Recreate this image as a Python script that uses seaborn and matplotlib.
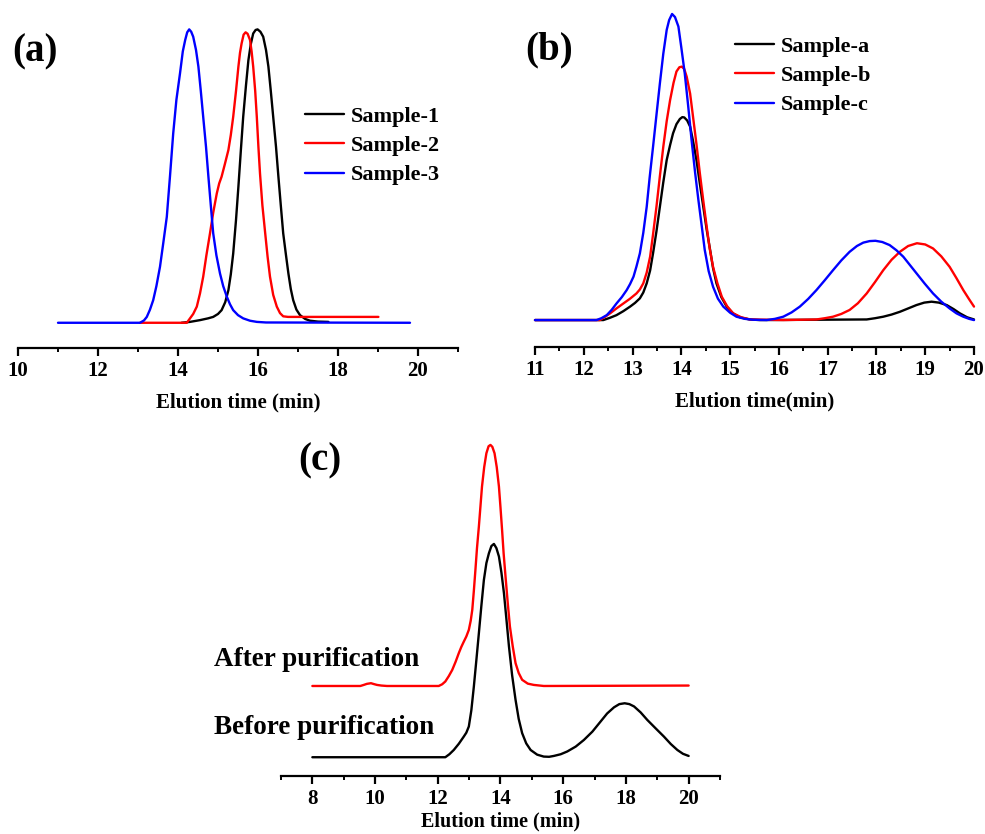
import numpy as np
import pandas as pd
import matplotlib
matplotlib.use("Agg")
import matplotlib.pyplot as plt
from matplotlib.ticker import MultipleLocator
import seaborn as sns

# ---------------- data ----------------
# Panel (a)
a1_x = [14.09, 14.30, 14.55, 14.75, 14.88, 15.00, 15.09, 15.18, 15.26, 15.32, 15.38, 15.45,
        15.51, 15.57, 15.63, 15.70, 15.76, 15.82, 15.88, 15.94, 15.99, 16.06, 16.13, 16.20,
        16.26, 16.32, 16.38, 16.45, 16.51, 16.57, 16.63, 16.70, 16.76, 16.82, 16.88, 16.96,
        17.05, 17.18, 17.30, 17.50, 17.76]
a1_y = [0.0, 0.003, 0.009, 0.015, 0.02, 0.03, 0.043, 0.07, 0.111, 0.165, 0.236, 0.35,
        0.464, 0.585, 0.702, 0.81, 0.895, 0.95, 0.986, 0.998, 1.0, 0.992, 0.975, 0.93,
        0.873, 0.79, 0.702, 0.60, 0.498, 0.40, 0.305, 0.23, 0.168, 0.115, 0.077, 0.045,
        0.026, 0.013, 0.007, 0.004, 0.003]
a2_x = [13.05, 14.22, 14.30, 14.38, 14.47, 14.55, 14.63, 14.71, 14.80, 14.88, 14.97, 15.03,
        15.09, 15.17, 15.26, 15.32, 15.38, 15.45, 15.51, 15.55, 15.59, 15.64, 15.69, 15.74,
        15.80, 15.84, 15.88, 15.93, 15.97, 16.01, 16.05, 16.11, 16.18, 16.24, 16.30, 16.38,
        16.47, 16.55, 16.63, 16.75, 19.01]
a2_y = [0.0, 0.0, 0.015, 0.03, 0.055, 0.10, 0.157, 0.23, 0.305, 0.375, 0.441, 0.475,
        0.498, 0.54, 0.589, 0.64, 0.702, 0.79, 0.873, 0.92, 0.952, 0.982, 0.99, 0.985,
        0.964, 0.925, 0.873, 0.79, 0.702, 0.60, 0.509, 0.40, 0.305, 0.225, 0.157, 0.095,
        0.055, 0.033, 0.022, 0.02, 0.02]
a3_x = [11.0, 13.05, 13.15, 13.22, 13.30, 13.38, 13.46, 13.55, 13.63, 13.72, 13.80, 13.88,
        13.96, 14.05, 14.12, 14.18, 14.23, 14.28, 14.33, 14.38, 14.45, 14.51, 14.57, 14.63,
        14.70, 14.76, 14.82, 14.88, 14.96, 15.05, 15.13, 15.22, 15.30, 15.38, 15.50, 15.63,
        15.80, 15.97, 16.20, 19.80]
a3_y = [0.0, 0.0, 0.008, 0.02, 0.045, 0.077, 0.125, 0.191, 0.27, 0.361, 0.50, 0.645,
        0.76, 0.85, 0.925, 0.964, 0.99, 1.0, 0.992, 0.975, 0.93, 0.873, 0.79, 0.702,
        0.60, 0.498, 0.40, 0.305, 0.23, 0.168, 0.125, 0.089, 0.063, 0.043, 0.026, 0.015,
        0.007, 0.003, 0.001, 0.0]
a_names = ["Sample-1", "Sample-2", "Sample-3"]

# Panel (b)
ba_x = [11.0, 12.40, 12.53, 12.67, 12.81, 12.95, 13.05, 13.15, 13.22, 13.29, 13.36, 13.42,
        13.49, 13.56, 13.63, 13.70, 13.77, 13.83, 13.90, 13.97, 14.02, 14.06, 14.12, 14.18,
        14.24, 14.31, 14.38, 14.45, 14.52, 14.59, 14.65, 14.72, 14.82, 14.93, 15.06, 15.20,
        15.40, 15.61, 17.80, 17.97, 18.14, 18.31, 18.48, 18.65, 18.82, 18.98, 19.13, 19.28,
        19.44, 19.58, 19.71, 19.86, 20.0]
ba_y = [0.0, 0.0, 0.007, 0.016, 0.029, 0.044, 0.056, 0.071, 0.09, 0.12, 0.162, 0.218,
        0.29, 0.37, 0.45, 0.523, 0.572, 0.61, 0.64, 0.657, 0.663, 0.662, 0.652, 0.632,
        0.585, 0.523, 0.445, 0.37, 0.295, 0.229, 0.17, 0.12, 0.075, 0.044, 0.022, 0.009,
        0.002, 0.0, 0.002, 0.006, 0.011, 0.018, 0.027, 0.038, 0.049, 0.057, 0.06, 0.057,
        0.049, 0.036, 0.022, 0.009, 0.002]
bb_x = [11.0, 12.33, 12.43, 12.54, 12.67, 12.81, 12.95, 13.08, 13.15, 13.22, 13.29, 13.36,
        13.42, 13.49, 13.56, 13.63, 13.70, 13.77, 13.84, 13.90, 13.96, 14.01, 14.06, 14.11,
        14.18, 14.24, 14.31, 14.38, 14.45, 14.52, 14.58, 14.65, 14.74, 14.83, 14.94, 15.06,
        15.23, 15.41, 16.09, 16.77, 16.94, 17.11, 17.28, 17.45, 17.62, 17.80, 17.97, 18.14,
        18.31, 18.48, 18.65, 18.83, 19.00, 19.16, 19.33, 19.50, 19.64, 19.78, 19.90, 20.0]
bb_y = [0.0, 0.0, 0.01, 0.022, 0.038, 0.054, 0.07, 0.087, 0.10, 0.12, 0.155, 0.207,
        0.28, 0.37, 0.47, 0.566, 0.65, 0.719, 0.775, 0.812, 0.826, 0.828, 0.82, 0.795,
        0.74, 0.664, 0.575, 0.479, 0.39, 0.305, 0.235, 0.174, 0.12, 0.076, 0.045, 0.022,
        0.009, 0.002, 0.0, 0.002, 0.006, 0.011, 0.02, 0.033, 0.055, 0.087, 0.124, 0.163,
        0.197, 0.223, 0.242, 0.251, 0.247, 0.234, 0.208, 0.174, 0.137, 0.098, 0.068, 0.044]
bc_x = [11.0, 12.26, 12.36, 12.47, 12.57, 12.67, 12.78, 12.88, 12.95, 13.02, 13.08, 13.15,
        13.22, 13.29, 13.35, 13.42, 13.49, 13.56, 13.63, 13.70, 13.75, 13.81, 13.87, 13.94,
        14.00, 14.07, 14.14, 14.21, 14.28, 14.35, 14.42, 14.48, 14.56, 14.65, 14.75, 14.86,
        15.00, 15.13, 15.30, 15.47, 15.75, 15.92, 16.09, 16.26, 16.43, 16.60, 16.77, 16.94,
        17.11, 17.28, 17.45, 17.60, 17.73, 17.86, 17.98, 18.12, 18.27, 18.41, 18.55, 18.68,
        18.82, 18.99, 19.16, 19.33, 19.50, 19.64, 19.78, 19.90, 20.0]
bc_y = [0.0, 0.0, 0.006, 0.016, 0.033, 0.054, 0.075, 0.098, 0.118, 0.142, 0.175, 0.218,
        0.285, 0.37, 0.465, 0.566, 0.67, 0.773, 0.87, 0.948, 0.98, 1.0, 0.99, 0.959,
        0.89, 0.806, 0.70, 0.588, 0.485, 0.392, 0.305, 0.229, 0.16, 0.109, 0.07, 0.044,
        0.024, 0.011, 0.004, 0.001, 0.0, 0.004, 0.011, 0.025, 0.044, 0.069, 0.098, 0.13,
        0.163, 0.195, 0.223, 0.242, 0.253, 0.258, 0.259, 0.255, 0.245, 0.228, 0.207, 0.181,
        0.153, 0.119, 0.087, 0.06, 0.038, 0.022, 0.011, 0.004, 0.0]
b_names = ["Sample-a", "Sample-b", "Sample-c"]

# Panel (c)
after_x = [8.0, 9.53, 9.64, 9.74, 9.87, 9.96, 10.06, 10.20, 10.38, 12.03, 12.14, 12.24,
           12.35, 12.46, 12.57, 12.67, 12.75, 12.83, 12.91, 12.99, 13.05, 13.10, 13.15,
           13.20, 13.25, 13.31, 13.36, 13.41, 13.48, 13.55, 13.62, 13.68, 13.74, 13.81,
           13.88, 13.95, 14.00, 14.05, 14.10, 14.16, 14.23, 14.30, 14.39, 14.48, 14.58,
           14.69, 14.87, 15.06, 15.38, 20.0]
after_y = [0.334, 0.334, 0.339, 0.344, 0.347, 0.343, 0.339, 0.336, 0.334, 0.334, 0.342, 0.355,
           0.38, 0.409, 0.448, 0.488, 0.517, 0.542, 0.566, 0.597, 0.64, 0.691, 0.78,
           0.878, 0.98, 1.081, 1.175, 1.269, 1.36, 1.425, 1.458, 1.464, 1.455, 1.425,
           1.36, 1.269, 1.17, 1.066, 0.955, 0.847, 0.725, 0.613, 0.52, 0.441, 0.395,
           0.363, 0.345, 0.339, 0.334, 0.336]
before_x = [8.0, 12.24, 12.37, 12.51, 12.67, 12.83, 12.91, 12.99, 13.07, 13.15, 13.23, 13.31,
            13.39, 13.47, 13.55, 13.63, 13.71, 13.79, 13.87, 13.95, 14.03, 14.11, 14.19,
            14.27, 14.37, 14.48, 14.58, 14.69, 14.82, 14.96, 15.17, 15.38, 15.55, 15.70,
            15.92, 16.13, 16.40, 16.66, 16.93, 17.19, 17.40, 17.62, 17.79, 17.96, 18.11,
            18.26, 18.47, 18.68, 18.95, 19.21, 19.43, 19.64, 19.82, 20.0]
before_y = [0.0, 0.0, 0.014, 0.034, 0.063, 0.097, 0.115, 0.144, 0.22, 0.331, 0.455, 0.581,
            0.71, 0.831, 0.91, 0.956, 0.99, 1.0, 0.98, 0.941, 0.865, 0.769, 0.645,
            0.519, 0.385, 0.269, 0.18, 0.113, 0.065, 0.034, 0.012, 0.003, 0.002, 0.006,
            0.014, 0.027, 0.05, 0.081, 0.12, 0.167, 0.205, 0.234, 0.249, 0.253, 0.249,
            0.238, 0.21, 0.175, 0.135, 0.097, 0.062, 0.034, 0.016, 0.006]
c_names = ["After purification", "Before purification"]

colors3 = ["black", "red", "blue"]

# ---------------- style ----------------
sns.set_style("white")
plt.rcParams["font.family"] = ["Liberation Serif", "DejaVu Serif"]
plt.rcParams["font.weight"] = "bold"
plt.rcParams["text.color"] = "black"
plt.rcParams["axes.labelcolor"] = "black"
plt.rcParams["xtick.color"] = "black"
plt.rcParams["lines.solid_joinstyle"] = "round"

W, H = 985, 834
fig = plt.figure(figsize=(W / 100, H / 100), dpi=100)


def rect(l, r, b, t):
    return [l / W, 1 - b / H, (r - l) / W, (b - t) / H]


def style_axis(ax, xlim, ylim, minor, ticks):
    ax.set_xlim(*xlim)
    ax.set_ylim(*ylim)
    for s in ["left", "right", "top"]:
        ax.spines[s].set_visible(False)
    ax.spines["bottom"].set_linewidth(1.6)
    ax.spines["bottom"].set_color("black")
    ax.set_yticks([])
    ax.set_ylabel("")
    ax.set_xticks(ticks)
    ax.xaxis.set_minor_locator(MultipleLocator(minor))
    ax.tick_params(axis="x", which="major", direction="out", length=5.5, width=1.6,
                   labelsize=15, pad=4, bottom=True, color="black", labelcolor="black")
    ax.tick_params(axis="x", which="minor", direction="out", length=3, width=1.4,
                   bottom=True, color="black")
    for lab in ax.get_xticklabels():
        lab.set_fontweight("bold")
    ax.patch.set_alpha(0)


lw = 1.7
leg_kw = dict(bbox_transform=fig.transFigure, frameon=False, handlelength=1.75,
              handletextpad=0.3, labelspacing=0.4, borderpad=0, borderaxespad=0,
              loc="upper left", prop={"size": 16, "weight": "bold"})

# ---- panel (a)
axA = fig.add_axes(rect(18, 458, 348, 20))
for xs, ys, nm, c in zip([a1_x, a2_x, a3_x], [a1_y, a2_y, a3_y], a_names, colors3):
    sns.lineplot(x=xs, y=ys, color=c, lw=lw, label=nm, ax=axA, sort=False)
style_axis(axA, (10, 21), (-0.086, 1.032), 1, [10, 12, 14, 16, 18, 20])
axA.set_xlabel("Elution time (min)", fontsize=15, fontweight="bold", labelpad=8)
axA.legend(bbox_to_anchor=(305 / W, 1 - 106 / H), **leg_kw)

# ---- panel (b)
axB = fig.add_axes(rect(535, 974, 347, 10))
for xs, ys, nm, c in zip([ba_x, bb_x, bc_x], [ba_y, bb_y, bc_y], b_names, colors3):
    sns.lineplot(x=xs, y=ys, color=c, lw=lw, label=nm, ax=axB, sort=False, clip_on=False)
style_axis(axB, (11, 20), (-0.088, 1.013), 0.5, list(range(11, 21)))
axB.set_xlabel("Elution time(min)", fontsize=15, fontweight="bold", labelpad=8)
axB.legend(bbox_to_anchor=(735 / W, 1 - 36 / H), **leg_kw)

# ---- panel (c)
axC = fig.add_axes(rect(281, 720, 776, 430))
sns.lineplot(x=after_x, y=after_y, color="red", lw=lw, ax=axC, sort=False)
sns.lineplot(x=before_x, y=before_y, color="black", lw=lw, ax=axC, sort=False)
style_axis(axC, (7, 21), (-0.088, 1.534), 1, [8, 10, 12, 14, 16, 18, 20])
axC.set_xlabel("Elution time (min)", fontsize=14.5, fontweight="bold", labelpad=1.5)

fig.text(214 / W, 1 - 659 / H, c_names[0], fontsize=19.5, fontweight="bold",
         ha="left", va="center")
fig.text(214 / W, 1 - 727 / H, c_names[1], fontsize=19.5, fontweight="bold",
         ha="left", va="center")

# panel letters
fig.text(35 / W, 1 - 52 / H, "(a)", fontsize=28, fontweight="bold", ha="center", va="center")
fig.text(549 / W, 1 - 50 / H, "(b)", fontsize=28, fontweight="bold", ha="center", va="center")
fig.text(320 / W, 1 - 461 / H, "(c)", fontsize=28, fontweight="bold", ha="center", va="center")

fig.savefig("out.png", dpi=100)
